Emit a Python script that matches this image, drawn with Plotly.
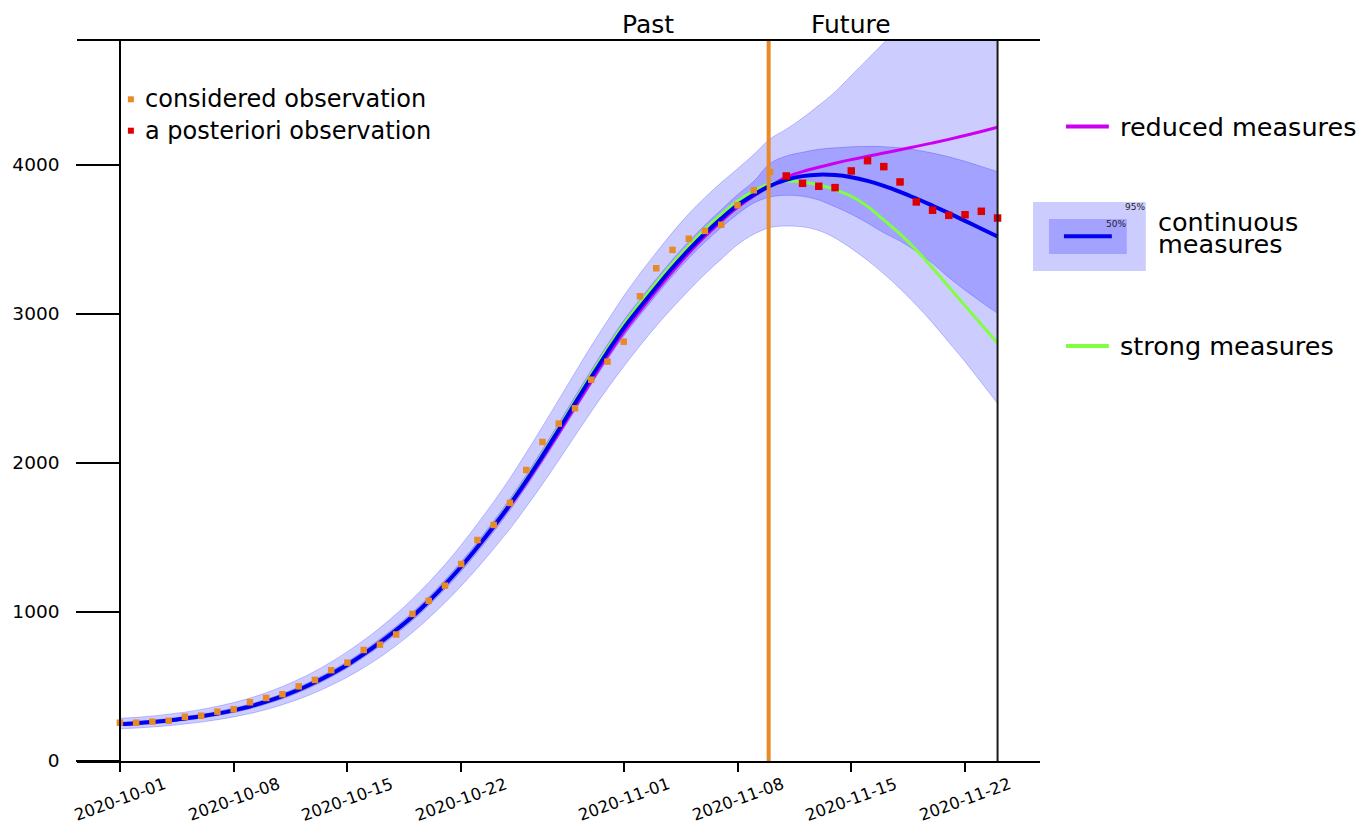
import pandas as pd
import plotly.graph_objects as go

# ---------------- data ----------------
start_date = "2020-10-01"
n_days = 55
dates = list(pd.date_range(start_date, periods=n_days, freq="D"))

median = [248, 254, 262, 272, 285, 300, 318, 340, 366, 398, 435, 478, 528, 584, 646, 718, 795, 879, 970, 1072,
          1184, 1305, 1436, 1575, 1722, 1880, 2048, 2222, 2400, 2575, 2745, 2905, 3045, 3180, 3310, 3430, 3540,
          3640, 3730, 3800, 3860, 3900, 3925, 3935, 3932, 3918, 3893, 3860, 3820, 3775, 3727, 3677, 3625, 3572, 3520]

upper95 = [287, 293, 302, 314, 328, 346, 367, 392, 422, 458, 500, 548, 603, 665, 734, 810, 894, 986, 1088, 1198,
           1318, 1450, 1592, 1740, 1898, 2068, 2245, 2425, 2606, 2785, 2955, 3120, 3272, 3412, 3548, 3672, 3782,
           3882, 3975, 4070, 4175, 4240, 4315, 4400, 4490, 4600, 4710, 4820, 4930, 5040, 5150, 5260, 5370, 5480, 5590]
lower95 = [216, 221, 228, 237, 248, 261, 277, 296, 318, 345, 378, 415, 458, 508, 563, 626, 696, 775, 862, 958,
           1062, 1175, 1296, 1424, 1558, 1705, 1858, 2018, 2182, 2344, 2500, 2648, 2787, 2920, 3042, 3158, 3268,
           3368, 3465, 3535, 3580, 3590, 3585, 3560, 3510, 3440, 3360, 3270, 3170, 3060, 2940, 2810, 2680, 2540, 2400]
upper50 = [260, 266, 274, 284, 298, 313, 332, 355, 381, 414, 452, 496, 547, 604, 667, 740, 819, 904, 997, 1100,
           1214, 1337, 1470, 1611, 1760, 1920, 2090, 2266, 2446, 2623, 2795, 2957, 3098, 3234, 3365, 3486, 3597,
           3700, 3800, 3890, 4010, 4060, 4085, 4105, 4115, 4122, 4125, 4123, 4115, 4100, 4080, 4055, 4025, 3990, 3955]
lower50 = [237, 243, 251, 260, 273, 287, 305, 326, 351, 382, 418, 460, 509, 564, 625, 696, 771, 854, 943, 1044,
           1154, 1273, 1402, 1539, 1684, 1840, 2006, 2178, 2354, 2527, 2695, 2853, 2992, 3126, 3255, 3374, 3483,
           3580, 3670, 3745, 3785, 3797, 3790, 3765, 3720, 3670, 3610, 3545, 3490, 3420, 3340, 3245, 3160, 3080, 3005]

reduced = [248, 254, 262, 272, 285, 300, 318, 340, 366, 398, 435, 478, 528, 584, 646, 718, 795, 879, 970, 1072,
           1184, 1303, 1432, 1568, 1712, 1866, 2030, 2200, 2375, 2548, 2718, 2878, 3020, 3155, 3285, 3408, 3520,
           3622, 3715, 3792, 3860, 3918, 3955, 3985, 4012, 4036, 4058, 4080, 4102, 4125, 4148, 4172, 4198, 4225, 4253]
strong = [248, 254, 262, 272, 285, 300, 318, 340, 366, 398, 435, 478, 528, 584, 646, 718, 795, 879, 970, 1072,
          1186, 1308, 1440, 1582, 1732, 1892, 2062, 2238, 2418, 2595, 2768, 2930, 3072, 3208, 3338, 3458, 3568,
          3668, 3756, 3826, 3875, 3893, 3885, 3866, 3835, 3790, 3722, 3631, 3538, 3430, 3308, 3182, 3056, 2930, 2805]

considered_obs = [257, 257, 264, 270, 297, 304, 331, 347, 394, 423, 448, 501, 544, 609, 660, 745, 781, 849, 987,
                  1075, 1177, 1322, 1483, 1584, 1732, 1953, 2141, 2264, 2367, 2559, 2680, 2814, 3119, 3307, 3430,
                  3505, 3557, 3599, 3729, 3830, 3953]
posteriori_obs = [3926, 3877, 3857, 3848, 3960, 4029, 3989, 3886, 3752, 3696, 3662, 3666, 3689, 3644]

tick_dates = ["2020-10-01", "2020-10-08", "2020-10-15", "2020-10-22",
              "2020-11-01", "2020-11-08", "2020-11-15", "2020-11-22"]
y_ticks = [0, 1000, 2000, 3000, 4000]
split_date = "2020-11-09 22:00"
end_date = "2020-11-24"
x_range = ["2020-09-28 08:40", "2020-11-26 14:40"]
y_range = [0, 4832]

# ---------------- styles ----------------
FONT = "DejaVu Sans"
BAND_FILL = "rgba(0,0,255,0.2)"
BAND_EDGE = "rgba(0,0,255,0.22)"
BLUE = "rgb(0,0,240)"
MAGENTA = "rgb(204,0,240)"
GREEN = "rgb(128,255,64)"
ORANGE = "rgb(232,138,38)"
RED = "rgb(222,0,0)"

L, R, T, B = 75, 321, 41, 65
W, H = 1361, 826
PW, PH = W - L - R, H - T - B


def px_x(p):
    return (p - L) / PW


def px_y(p):
    return (H - B - p) / PH


fig = go.Figure()

obs_dates = dates[:len(considered_obs)]
post_dates = dates[len(considered_obs):]

# bands
fig.add_trace(go.Scatter(x=dates, y=lower95, mode="lines", line=dict(color=BAND_EDGE, width=1, shape="spline"),
                         hoverinfo="skip"))
fig.add_trace(go.Scatter(x=dates, y=upper95, mode="lines", fill="tonexty", fillcolor=BAND_FILL,
                         line=dict(color=BAND_EDGE, width=1, shape="spline"), hoverinfo="skip"))
fig.add_trace(go.Scatter(x=dates, y=lower50, mode="lines", line=dict(color=BAND_EDGE, width=1, shape="spline"),
                         hoverinfo="skip"))
fig.add_trace(go.Scatter(x=dates, y=upper50, mode="lines", fill="tonexty", fillcolor=BAND_FILL,
                         line=dict(color=BAND_EDGE, width=1, shape="spline"), hoverinfo="skip"))

# scenario lines
fig.add_trace(go.Scatter(x=dates, y=reduced, mode="lines", name="reduced measures",
                         line=dict(color=MAGENTA, width=3, shape="spline")))
fig.add_trace(go.Scatter(x=dates, y=strong, mode="lines", name="strong measures",
                         line=dict(color=GREEN, width=3, shape="spline")))
fig.add_trace(go.Scatter(x=dates, y=median, mode="lines", name="continuous measures",
                         line=dict(color=BLUE, width=4, shape="spline")))

# observations
fig.add_trace(go.Scatter(x=obs_dates, y=considered_obs, mode="markers", name="considered observation",
                         marker=dict(color=ORANGE, size=6.5, symbol="square", line=dict(width=0))))
fig.add_trace(go.Scatter(x=post_dates, y=posteriori_obs, mode="markers", name="a posteriori observation",
                         marker=dict(color=RED, size=7.5, symbol="square", line=dict(width=0))))

shapes = [
    dict(type="line", xref="x", yref="paper", x0=split_date, x1=split_date, y0=0, y1=1,
         line=dict(color=ORANGE, width=4), layer="above"),
    dict(type="line", xref="x", yref="paper", x0=end_date, x1=end_date, y0=0, y1=1,
         line=dict(color="#1a1a1a", width=2), layer="above"),
    # top-left legend markers
    dict(type="rect", xref="paper", yref="paper", x0=px_x(126), x1=px_x(132), y0=px_y(102.3), y1=px_y(96.3),
         fillcolor=ORANGE, line=dict(width=0)),
    dict(type="rect", xref="paper", yref="paper", x0=px_x(126), x1=px_x(132), y0=px_y(133.7), y1=px_y(127.7),
         fillcolor=RED, line=dict(width=0)),
    # right legend
    dict(type="line", xref="paper", yref="paper", x0=px_x(1066), x1=px_x(1109), y0=px_y(126.5), y1=px_y(126.5),
         line=dict(color=MAGENTA, width=4)),
    dict(type="rect", xref="paper", yref="paper", x0=px_x(1033), x1=px_x(1146), y0=px_y(271), y1=px_y(202),
         fillcolor=BAND_FILL, line=dict(width=0)),
    dict(type="rect", xref="paper", yref="paper", x0=px_x(1049), x1=px_x(1127), y0=px_y(254), y1=px_y(219),
         fillcolor=BAND_FILL, line=dict(width=0)),
    dict(type="line", xref="paper", yref="paper", x0=px_x(1064), x1=px_x(1112), y0=px_y(236.3), y1=px_y(236.3),
         line=dict(color=BLUE, width=4)),
    dict(type="line", xref="paper", yref="paper", x0=px_x(1066), x1=px_x(1109), y0=px_y(346), y1=px_y(346),
         line=dict(color=GREEN, width=4)),
]

annotations = []
for d in tick_dates:
    annotations.append(dict(x=d, xref="x", y=px_y(799), yref="paper", text=d, showarrow=False,
                            textangle=-20, xanchor="center", yanchor="middle",
                            font=dict(family=FONT, size=16.5, color="black")))

annotations += [
    dict(x="2020-11-02 12:00", xref="x", y=px_y(24), yref="paper", text="Past", showarrow=False,
         xanchor="center", yanchor="middle", font=dict(family=FONT, size=25, color="black")),
    dict(x="2020-11-14 23:00", xref="x", y=px_y(24), yref="paper", text="Future", showarrow=False,
         xanchor="center", yanchor="middle", font=dict(family=FONT, size=25, color="black")),
    dict(x=px_x(141), xref="paper", y=px_y(99), yref="paper", text="considered observation", showarrow=False,
         xanchor="left", yanchor="middle", font=dict(family=FONT, size=24, color="black")),
    dict(x=px_x(141), xref="paper", y=px_y(130.5), yref="paper", text="a posteriori observation", showarrow=False,
         xanchor="left", yanchor="middle", font=dict(family=FONT, size=24, color="black")),
    dict(x=px_x(1118), xref="paper", y=px_y(127), yref="paper", text="reduced measures", showarrow=False,
         xanchor="left", yanchor="middle", font=dict(family=FONT, size=25.5, color="black")),
    dict(x=px_x(1156), xref="paper", y=px_y(222), yref="paper", text="continuous", showarrow=False,
         xanchor="left", yanchor="middle", font=dict(family=FONT, size=25.5, color="black")),
    dict(x=px_x(1156), xref="paper", y=px_y(244), yref="paper", text="measures", showarrow=False,
         xanchor="left", yanchor="middle", font=dict(family=FONT, size=25.5, color="black")),
    dict(x=px_x(1118), xref="paper", y=px_y(346), yref="paper", text="strong measures", showarrow=False,
         xanchor="left", yanchor="middle", font=dict(family=FONT, size=25.5, color="black")),
    dict(x=px_x(1147), xref="paper", y=px_y(207), yref="paper", text="95%", showarrow=False,
         xanchor="right", yanchor="middle", font=dict(family=FONT, size=9, color="#222")),
    dict(x=px_x(1128), xref="paper", y=px_y(224), yref="paper", text="50%", showarrow=False,
         xanchor="right", yanchor="middle", font=dict(family=FONT, size=9, color="#222")),
]

fig.update_layout(
    width=W, height=H,
    margin=dict(l=L, r=R, t=T, b=B, pad=0),
    paper_bgcolor="white", plot_bgcolor="white",
    showlegend=False,
    font=dict(family=FONT, color="black"),
    shapes=shapes,
    annotations=annotations,
    xaxis=dict(type="date", range=x_range, domain=[0, 1],
               tickvals=tick_dates, showticklabels=False,
               ticks="outside", ticklen=9, tickwidth=1.5, tickcolor="black",
               showline=True, linecolor="black", linewidth=1.5, mirror=True,
               showgrid=False, zeroline=False),
    yaxis=dict(range=y_range, anchor="free", position=(118 - L) / PW,
               tickvals=y_ticks, ticktext=[str(v) for v in y_ticks],
               ticks="outside", ticklen=43, tickwidth=1.5, tickcolor="black",
               ticklabelstandoff=13,
               tickfont=dict(family=FONT, size=18.5, color="black"),
               showline=True, linecolor="black", linewidth=1.5,
               showgrid=False, zeroline=False),
)

fig.write_html("out.html", config={"displayModeBar": False},
               post_script="document.body.style.margin='0px';")
